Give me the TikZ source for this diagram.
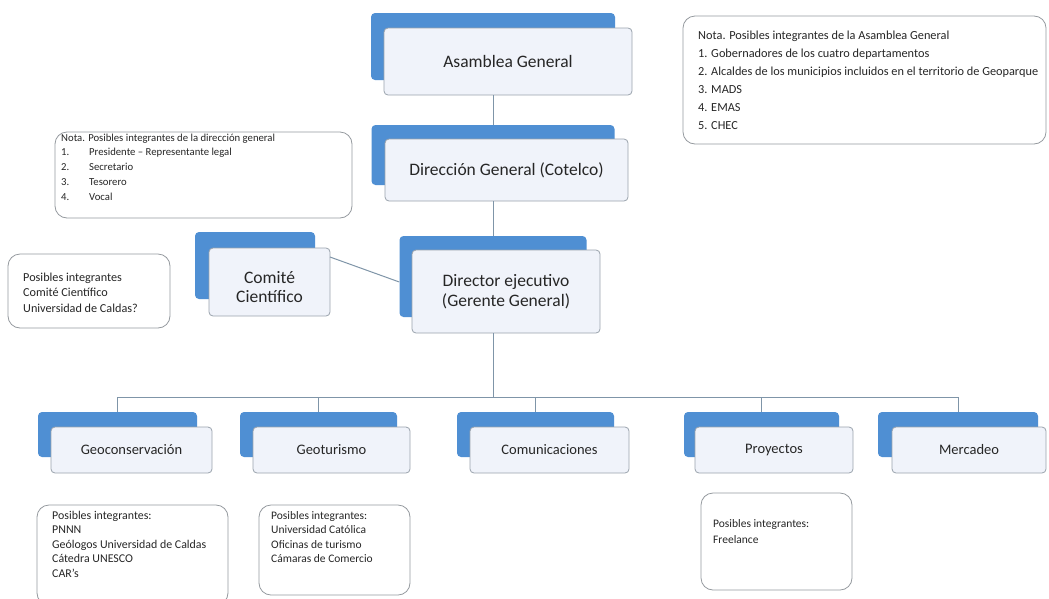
\documentclass[tikz,border=0pt]{standalone}
\usepackage{fontspec}
\setmainfont{Carlito}
\definecolor{blueB}{HTML}{4F8FD3}
\definecolor{boxfill}{HTML}{F0F3FA}
\definecolor{boxline}{HTML}{9AA3AD}
\definecolor{noteline}{HTML}{959A9F}
\definecolor{lineC}{HTML}{7F95A8}
\definecolor{txt}{HTML}{262626}
\begin{document}
\begin{tikzpicture}[x=1pt,y=-1pt,
  bluebox/.style={draw=none, fill=blueB, rounded corners=4pt, inner sep=0pt},
  whitebox/.style={draw=boxline, fill=boxfill, rounded corners=4pt, line width=0.8pt, inner sep=0pt, align=center, text=txt},
  bigtext/.style={font=\fontsize{17.5}{20}\selectfont},
  smalltext/.style={font=\fontsize{14.5}{17}\selectfont},
  notebox/.style={draw=noteline, fill=white, rounded corners=12pt, line width=0.8pt, inner sep=0pt},
  notetext/.style={anchor=base west, inner sep=0pt, text=txt, font=\fontsize{11.5}{14}\selectfont},
  conn/.style={draw=lineC, line width=1pt}
]
\clip (0,0) rectangle (1049,598);
\fill[white] (0,0) rectangle (1049,598);

% ---- main boxes ----
\node[bluebox, minimum width=244pt, minimum height=67pt] (aB) at (493,46.5) {};
\node[whitebox, bigtext, minimum width=248pt, minimum height=67pt] (aW) at (508,61.5) {Asamblea General};

\node[bluebox, minimum width=243pt, minimum height=60pt] (dB) at (493,155) {};
\node[whitebox, bigtext, minimum width=243pt, minimum height=62pt] (dW) at (506.5,170) {Dirección General (Cotelco)};

\node[bluebox, minimum width=120pt, minimum height=67pt] (cB) at (255,265.5) {};
\node[whitebox, minimum width=121pt, minimum height=68pt] (cW) at (269.5,282) {};
\node[align=center, text=txt, inner sep=0pt, font=\fontsize{17.5}{18.5}\selectfont] (cT) at ([yshift=-5pt]cW.center) {Comité\\Científico};

\node[bluebox, minimum width=187pt, minimum height=81pt] (xB) at (493,276.5) {};
\node[whitebox, bigtext, minimum width=188pt, minimum height=83pt] (xW) at (506,291.5) {Director ejecutivo\\(Gerente General)};

% ---- bottom boxes ----
\node[bluebox, minimum width=159pt, minimum height=45pt] (g1B) at (117.5,434.5) {};
\node[whitebox, smalltext, minimum width=161pt, minimum height=46pt] (g1W) at (131.5,450) {Geoconservación};
\node[bluebox, minimum width=157pt, minimum height=45pt] (g2B) at (318.5,434.5) {};
\node[whitebox, smalltext, minimum width=157pt, minimum height=46pt] (g2W) at (331.5,450) {Geoturismo};
\node[bluebox, minimum width=157pt, minimum height=45pt] (g3B) at (535.5,434.5) {};
\node[whitebox, smalltext, minimum width=159pt, minimum height=46pt] (g3W) at (549.5,450) {Comunicaciones};
\node[bluebox, minimum width=155pt, minimum height=45pt] (g4B) at (761.5,434.5) {};
\node[whitebox, smalltext, minimum width=158pt, minimum height=46pt] (g4W) at (774,450) {Proyectos};
\node[bluebox, minimum width=160pt, minimum height=45pt] (g5B) at (958,434.5) {};
\node[whitebox, smalltext, minimum width=154pt, minimum height=46pt] (g5W) at (969,450) {Mercadeo};

% ---- connectors ----
\coordinate (bus) at (0,397);
\draw[conn] (aB.center |- aW.south) -- (dB.north);
\draw[conn] (dB.center |- dW.south) -- (xB.north);
\draw[conn] (xB.center |- xW.south) -- (xB.center |- bus);
\draw[conn] (g1B.center |- bus) -- (g5B.center |- bus);
\foreach \g in {g1B,g2B,g3B,g4B,g5B}
  \draw[conn] (\g.center |- bus) -- (\g.north);
\coordinate (cc) at (330,257);
\draw[conn] (cc) -- ([yshift=-5.5pt]xB.west);

% ---- notes ----
\node[notebox, minimum width=363pt, minimum height=128pt] (nA) at (864.5,80) {};
\foreach [count=\i] \t in {Nota. Posibles integrantes de la Asamblea General,
  1. Gobernadores de los cuatro departamentos,
  2. Alcaldes de los municipios incluidos en el territorio de Geoparque,
  3. MADS, 4. EMAS, 5. CHEC}
  \node[notetext, font=\fontsize{12.3}{14}\selectfont] (nA-\i) at (698,{39+18*(\i-1)}) {\t};

\node[notebox, minimum width=297pt, minimum height=86pt] (nD) at (203.5,175) {};
\node[notetext, font=\fontsize{10.7}{13}\selectfont] (nD-1) at (61,141) {Nota. Posibles integrantes de la dirección general};
\foreach [count=\i] \t in {Presidente – Representante legal, Secretario, Tesorero, Vocal}
  \node[notetext, font=\fontsize{10.7}{13}\selectfont] (nD-\i-x) at (61,{141+14.8*\i}) {\makebox[28pt][l]{\i.}\t};

\node[notebox, minimum width=162pt, minimum height=74pt] (nC) at (89,291) {};
\foreach [count=\i] \t in {Posibles integrantes, Comité Científico, Universidad de Caldas?}
  \node[notetext, font=\fontsize{12.2}{14}\selectfont] (nC-\i) at (23,{281+15.5*(\i-1)}) {\t};

\node[notebox, minimum width=191pt, minimum height=100pt] (nG1) at (132.5,555) {};
\foreach [count=\i] \t in {Posibles integrantes:, PNNN, Geólogos Universidad de Caldas, Cátedra UNESCO, CAR’s}
  \node[notetext, font=\fontsize{11.9}{14}\selectfont] (nG1-\i) at (52,{519+14.6*(\i-1)}) {\t};

\node[notebox, minimum width=151pt, minimum height=90pt] (nG2) at (334.5,550) {};
\foreach [count=\i] \t in {Posibles integrantes:, Universidad Católica, Oficinas de turismo, Cámaras de Comercio}
  \node[notetext] (nG2-\i) at (271,{519+14.6*(\i-1)}) {\t};

\node[notebox, minimum width=151pt, minimum height=97pt] (nP) at (776.5,541.5) {};
\foreach [count=\i] \t in {Posibles integrantes:, Freelance}
  \node[notetext] (nP-\i) at (713,{527+16*(\i-1)}) {\t};
\end{tikzpicture}
\end{document}
